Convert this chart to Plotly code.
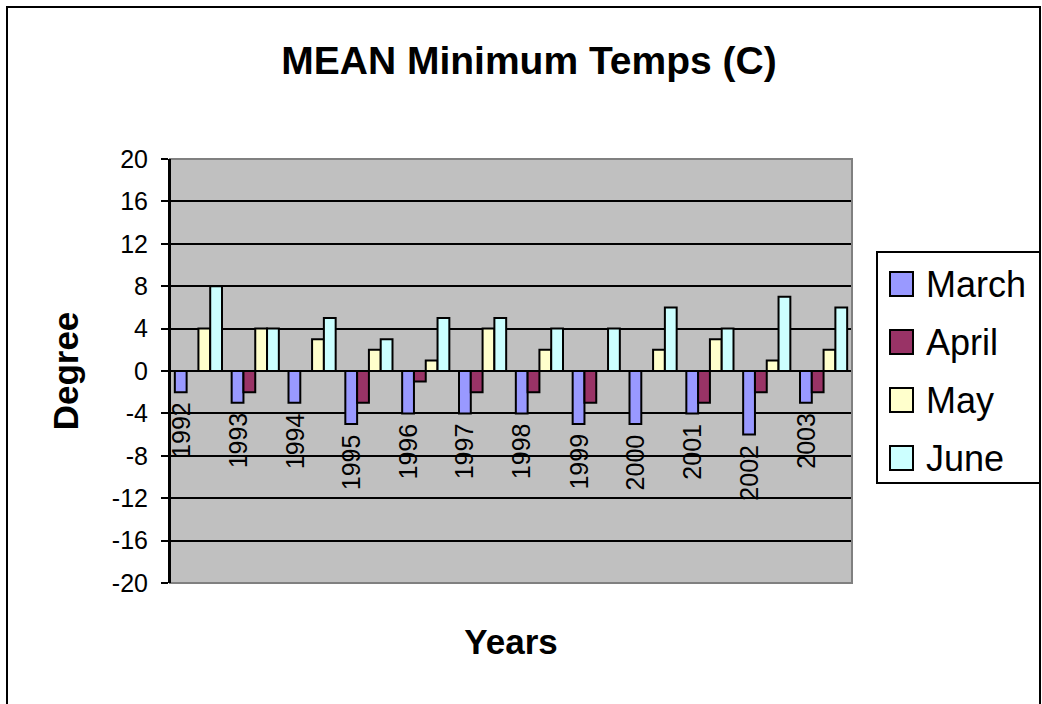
import plotly.graph_objects as go

# Mean minimum temperatures (°C) by year and month
years = ["1992", "1993", "1994", "1995", "1996", "1997",
         "1998", "1999", "2000", "2001", "2002", "2003"]
march = [-2, -3, -3, -5, -4, -4, -4, -5, -5, -4, -6, -3]
april = [0, -2, 0, -3, -1, -2, -2, -3, 0, -3, -2, -2]
may = [4, 4, 3, 2, 1, 4, 2, 0, 2, 3, 1, 2]
june = [8, 4, 5, 3, 5, 5, 4, 4, 6, 4, 7, 6]
y_ticks = [-20, -16, -12, -8, -4, 0, 4, 8, 12, 16, 20]

series = [("March", march, "#9999FF"),
          ("April", april, "#993366"),
          ("May", may, "#FFFFCC"),
          ("June", june, "#CCFFFF")]

FONT = "Liberation Sans, Arial, sans-serif"
W, H = 1042, 704
L, R, T, B = 170, 852, 159, 583
BARGAP = 0.17


def px(x):
    return (x - L) / (R - L)


def py(y):
    return (B - y) / (B - T)


fig = go.Figure()
for name, vals, color in series:
    fig.add_trace(go.Bar(
        x=years, y=vals, name=name, showlegend=False,
        marker=dict(color=color, line=dict(color="black", width=2)),
    ))

# category names written under the March bars, rotated
bar_w = (R - L) / len(years) * (1 - BARGAP) / len(series)
annotations = []
for i, (yr, v) in enumerate(zip(years, march)):
    annotations.append(dict(
        x=i, y=v, xref="x", yref="y", text=yr, textangle=-90,
        showarrow=False, xanchor="center", yanchor="top",
        xshift=-1.5 * bar_w, yshift=-8,
        font=dict(family=FONT, size=25, color="black"),
    ))

shapes = [
    # outer chart frame
    dict(type="rect", xref="paper", yref="paper",
         x0=px(7), x1=px(1040), y0=py(7), y1=py(720),
         line=dict(color="black", width=2), fillcolor="rgba(0,0,0,0)",
         layer="above"),
    # plot-area border
    dict(type="rect", xref="paper", yref="paper",
         x0=0, x1=1, y0=0, y1=1,
         line=dict(color="#808080", width=2), fillcolor="rgba(0,0,0,0)",
         layer="above"),
    # y axis line drawn over the border
    dict(type="line", xref="paper", yref="paper",
         x0=0, x1=0, y0=0, y1=1,
         line=dict(color="black", width=2), layer="above"),
    # legend box
    dict(type="rect", xref="paper", yref="paper",
         x0=px(877), x1=px(1040), y0=py(252), y1=py(483),
         line=dict(color="black", width=2), fillcolor="white",
         layer="above"),
]

# legend entries
for i, (name, _, color) in enumerate(series):
    cy = 284 + 58 * i
    shapes.append(dict(
        type="rect", xref="paper", yref="paper",
        x0=px(890), x1=px(913), y0=py(cy - 12), y1=py(cy + 12),
        line=dict(color="black", width=2), fillcolor=color, layer="above",
    ))
    annotations.append(dict(
        x=px(924), y=py(cy), xref="paper", yref="paper", text=name,
        showarrow=False, xanchor="left", yanchor="middle",
        font=dict(family=FONT, size=36, color="black"),
    ))

fig.update_layout(
    width=W, height=H,
    margin=dict(l=L, r=W - R, t=T, b=H - B),
    paper_bgcolor="white",
    plot_bgcolor="#C0C0C0",
    barmode="group", bargap=BARGAP, bargroupgap=0,
    font=dict(family=FONT, color="black"),
    title=dict(
        text="<b>MEAN Minimum Temps (C)</b>",
        x=529 / W, y=1 - 60 / H, xref="container", yref="container",
        xanchor="center", yanchor="middle",
        font=dict(family=FONT, size=39, color="black"),
    ),
    xaxis=dict(
        type="category", range=[-0.5, len(years) - 0.5],
        showticklabels=False, showgrid=False,
        ticks="", showline=False, zeroline=False,
        title=dict(text="<b>Years</b>", standoff=46,
                   font=dict(family=FONT, size=35, color="black")),
    ),
    yaxis=dict(
        range=[-20, 20], tickvals=y_ticks,
        ticktext=[str(v) for v in y_ticks],
        showgrid=True, gridcolor="black", gridwidth=2,
        zeroline=True, zerolinecolor="black", zerolinewidth=2,
        showline=True, linecolor="black", linewidth=2,
        ticks="outside", ticklen=7, tickwidth=2, tickcolor="black",
        ticklabelstandoff=8,
        tickfont=dict(family=FONT, size=25, color="black"),
        title=dict(text="<b>Degree</b>", standoff=23,
                   font=dict(family=FONT, size=35, color="black")),
    ),
    shapes=shapes,
    annotations=annotations,
)

fig.write_html("out.html")
